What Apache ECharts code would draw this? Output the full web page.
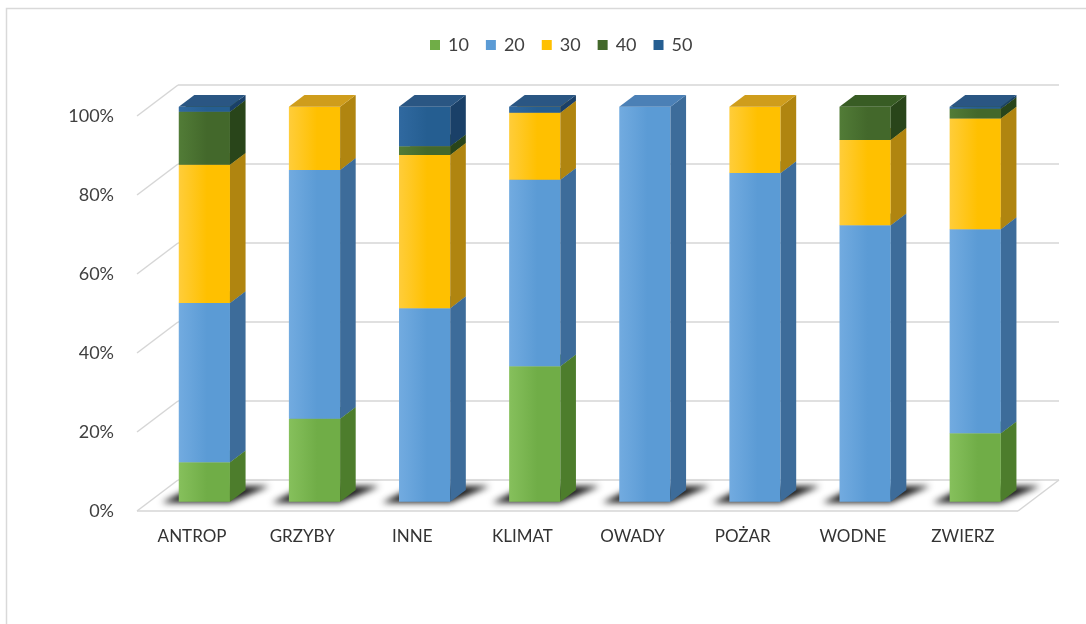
<!DOCTYPE html>
<html>
<head>
<meta charset="utf-8">
<script src="https://cdn.jsdelivr.net/npm/echarts@6/dist/echarts.min.js"></script>
<style>
  html, body { margin: 0; padding: 0; background: #fff; }
  #chart { width: 1086px; height: 624px; }
</style>
</head>
<body>
<div id="chart"></div>
<script>
// categories and shares (%) per class
const categories = ['ANTROP', 'GRZYBY', 'INNE', 'KLIMAT', 'OWADY', 'POŻAR', 'WODNE', 'ZWIERZ'];
const seriesNames = ['10', '20', '30', '40', '50'];
const s10 = [10, 21, 0, 34.3, 0, 0, 0, 17.3];
const s20 = [40.3, 63, 49, 47.2, 100, 83.2, 70, 51.7];
const s30 = [35, 16, 38.8, 17, 0, 16.8, 21.6, 28];
const s40 = [13.4, 0, 2.2, 0, 0, 0, 8.4, 2.5];
const s50 = [1.3, 0, 10, 1.5, 0, 0, 0, 0.5];
const yTicks = [0, 20, 40, 60, 80, 100];

// face colours: [legend/front, front light, side, top]
const palette = [
  ['#70ad47', '#86c05c', '#4d7d2c', '#5f9a3a'],
  ['#5b9bd5', '#72abe0', '#3d6c9a', '#4b80b6'],
  ['#ffc000', '#ffcd3a', '#b08510', '#cf9d1c'],
  ['#43682b', '#527c37', '#29451a', '#385c24'],
  ['#255e91', '#3069a0', '#1a4068', '#2a5683']
];

// 3d look: full floor depth, offset of bar fronts, bar depth
const DEPTH = [41, -31];
const FRONT = [12.3, -9.3];
const BAR = [15.6, -11.8];

const all = [s10, s20, s30, s40, s50];

function stackedData(k) {
  return categories.map((c, i) => {
    let base = 0;
    for (let j = 0; j < k; j++) base += all[j][i];
    return [i, base, base + all[k][i]];
  });
}

function renderBox(k) {
  return function (params, api) {
    const lo = api.value(1), hi = api.value(2);
    if (hi - lo <= 0) return;
    const ci = api.value(0);
    const p0 = api.coord([ci, lo]);
    const p1 = api.coord([ci, hi]);
    const bw = api.size([1, 0])[0] * 0.465;
    const cx = p0[0] + FRONT[0];
    const yb = p0[1] + FRONT[1];
    const yt = p1[1] + FRONT[1];
    const x0 = cx - bw / 2, x1 = cx + bw / 2;
    const c = palette[k];
    return {
      type: 'group',
      children: [
        {
          type: 'rect',
          shape: { x: x0, y: yt, width: bw, height: yb - yt },
          style: {
            fill: new echarts.graphic.LinearGradient(0, 0, 1, 0, [
              { offset: 0, color: c[1] },
              { offset: 0.55, color: c[0] },
              { offset: 1, color: c[0] }
            ])
          }
        },
        {
          type: 'polygon',
          shape: { points: [[x1, yb], [x1 + BAR[0], yb + BAR[1]], [x1 + BAR[0], yt + BAR[1]], [x1, yt]] },
          style: { fill: c[2] }
        },
        {
          type: 'polygon',
          shape: { points: [[x0, yt], [x1, yt], [x1 + BAR[0], yt + BAR[1]], [x0 + BAR[0], yt + BAR[1]]] },
          style: { fill: c[3] }
        }
      ]
    };
  };
}

function renderWall(params, api) {
  const v = api.value(1);
  const p = api.coord([0, v]);
  const cs = params.coordSys;
  const xl = cs.x, xr = cs.x + cs.width, y = p[1];
  const st = { stroke: '#d6d6d6', lineWidth: 1.5 };
  const children = [
    { type: 'line', shape: { x1: xl, y1: y, x2: xl + DEPTH[0], y2: y + DEPTH[1] }, style: st },
    { type: 'line', shape: { x1: xl + DEPTH[0], y1: y + DEPTH[1], x2: xr + DEPTH[0], y2: y + DEPTH[1] }, style: st }
  ];
  if (v === 0) {
    children.push({ type: 'line', shape: { x1: xl, y1: y, x2: xr, y2: y }, style: st });
    children.push({ type: 'line', shape: { x1: xr, y1: y, x2: xr + DEPTH[0], y2: y + DEPTH[1] }, style: st });
  }
  return { type: 'group', children: children };
}

function renderShadow(params, api) {
  const ci = api.value(0);
  const p0 = api.coord([ci, 0]);
  const bw = api.size([1, 0])[0] * 0.465;
  const cx = p0[0] + FRONT[0];
  const yb = p0[1] + FRONT[1];
  const x0 = cx - bw / 2, x1 = cx + bw / 2;
  const off = 3000;
  return {
    type: 'polygon',
    shape: {
      points: [
        [x0 - 17 - off, yb + 1],
        [x1 - off, yb + 1],
        [x1 + BAR[0] + 24 - off, yb + BAR[1] - 4],
        [x0 + BAR[0] - off, yb + BAR[1] - 4]
      ]
    },
    style: {
      fill: '#333',
      shadowColor: 'rgba(25,25,25,1)',
      shadowBlur: 6,
      shadowOffsetX: off
    }
  };
}

const chart = echarts.init(document.getElementById('chart'));

const series = [
  {
    name: 'walls',
    type: 'custom',
    renderItem: renderWall,
    data: yTicks.map(v => [0, v]),
    encode: { x: 0, y: 1 },
    silent: true,
    z: 1
  },
  {
    name: 'shadow',
    type: 'custom',
    renderItem: renderShadow,
    data: categories.map((c, i) => [i, 0]),
    encode: { x: 0, y: 1 },
    silent: true,
    z: 2
  }
];
seriesNames.forEach((n, k) => {
  series.push({
    name: n,
    type: 'custom',
    renderItem: renderBox(k),
    data: stackedData(k),
    encode: { x: 0, y: [1, 2] },
    itemStyle: { color: palette[k][0] },
    z: 3
  });
});

chart.setOption({
  animation: false,
  backgroundColor: '#fff',
  textStyle: { fontFamily: 'Lato' },
  graphic: [{
    type: 'rect',
    shape: { x: 6.5, y: 8.5, width: 1200, height: 800 },
    style: { fill: 'none', stroke: '#d9d9d9', lineWidth: 1.5 },
    silent: true
  }],
  legend: {
    data: seriesNames,
    left: 425,
    top: 31,
    icon: 'rect',
    itemWidth: 10,
    itemHeight: 10,
    itemGap: 17,
    textStyle: { fontSize: 18, color: '#404040', padding: [0, 0, 0, 3] }
  },
  grid: { left: 137, right: 68, top: 116, bottom: 113 },
  xAxis: {
    type: 'category',
    data: categories,
    axisLine: { show: false },
    axisTick: { show: false },
    axisLabel: { fontSize: 17, color: '#333', margin: 17 }
  },
  yAxis: {
    type: 'value',
    min: 0,
    max: 100,
    interval: 20,
    axisLine: { show: false },
    axisTick: { show: false },
    splitLine: { show: false },
    axisLabel: { fontSize: 18, color: '#404040', margin: 23, formatter: '{value}%' }
  },
  series: series
});
</script>
</body>
</html>
